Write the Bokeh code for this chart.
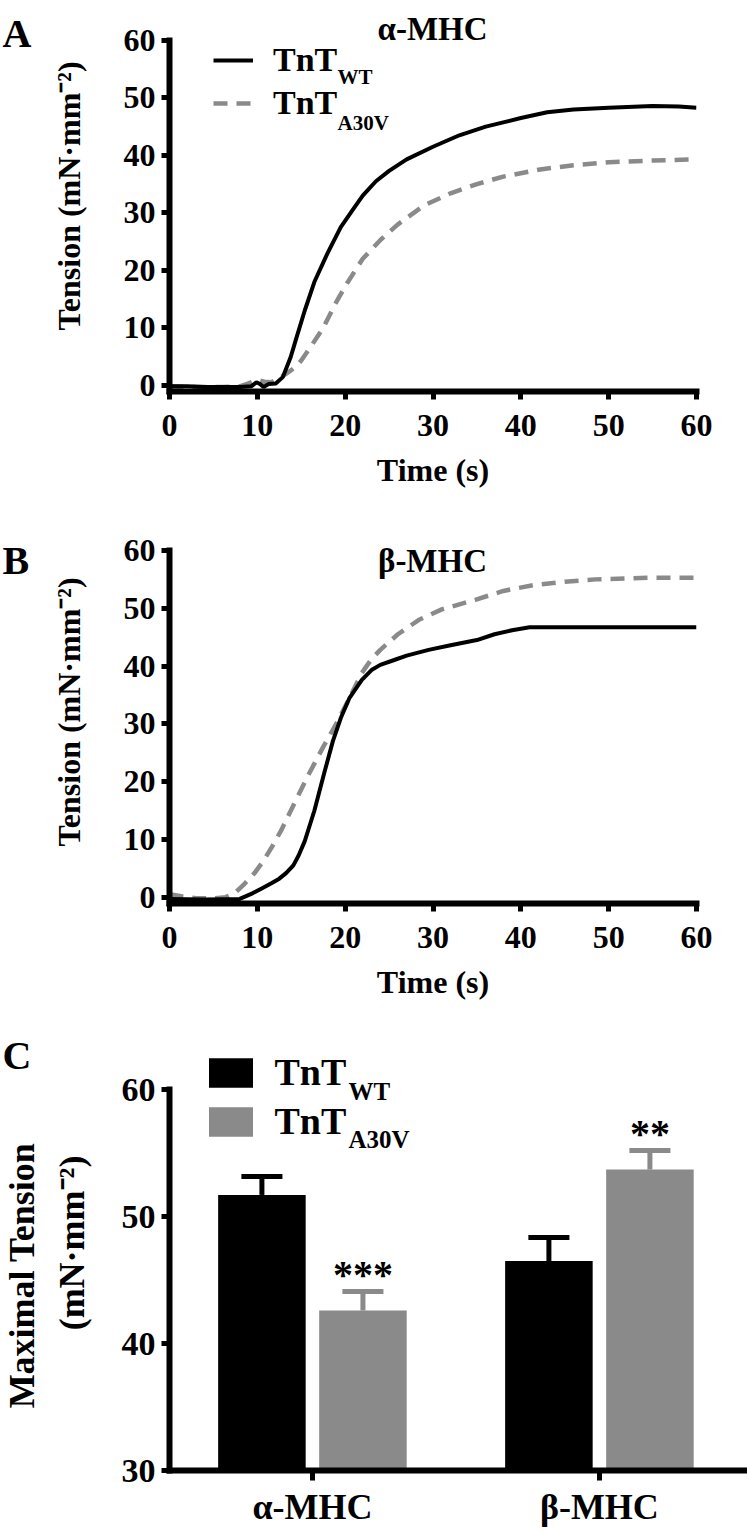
import math
from bokeh.plotting import figure
from bokeh.models import Range1d, FixedTicker, Legend, LegendItem, Label
from bokeh.layouts import column, row
from bokeh.embed import file_html
from bokeh.resources import INLINE
from bokeh.core.properties import value

SERIF = "Liberation Serif"
GRAY = "#8a8a8a"

# ---------------- data ----------------
time_ticks = [0, 10, 20, 30, 40, 50, 60]
tension_ticks = [0, 10, 20, 30, 40, 50, 60]

# Panel A (alpha-MHC)
a_wt_t = [0, 2, 4, 6, 8, 9.3, 9.9, 10.3, 10.7, 11.3, 12.1, 12.9, 13.8, 14.5, 15.4, 16.5, 18, 19.5,
          20.8, 22, 23.5, 25, 27, 30, 33, 36, 40, 43, 46, 50, 55, 58, 60]
a_wt_v = [-0.2, -0.2, -0.3, -0.3, -0.3, -0.2, 0.5, 0.2, -0.3, 0.2, 0.3, 1.4, 4.9, 8.5, 13, 18, 23, 27.5,
          30.4, 33, 35.5, 37.3, 39.3, 41.5, 43.5, 45, 46.5, 47.5, 48, 48.3, 48.6, 48.5, 48.3]
a_mut_t = [0, 3, 6, 8, 9, 10, 10.8, 11.6, 12.5, 13.3, 14.3, 15, 16, 17.5, 19, 20.2, 22, 24.1, 26,
           29, 32, 35, 38, 42, 46, 50, 55, 60]
a_mut_v = [-0.2, -0.3, -0.3, -0.2, 0.3, 0.9, 0.6, 0.5, 1.2, 2, 3.1, 4.3, 6.5, 10, 14.5, 17.7, 22, 25.4, 28,
           31.3, 33.4, 35, 36.3, 37.5, 38.3, 38.8, 39.1, 39.3]

# Panel B (beta-MHC)
b_wt_t = [0, 4, 8, 9.5, 10.5, 11.6, 12.5, 13.3, 14.1, 14.7, 15.4, 16.5, 17.6, 18.6, 19.5, 20.5, 21.9,
          23, 24, 25.5, 27, 29.5, 32, 35, 37, 39, 41, 50, 60]
b_wt_v = [-0.3, -0.4, -0.3, 0.7, 1.5, 2.4, 3.2, 4.2, 5.5, 7.2, 9.7, 15, 21.4, 27, 31, 34.5, 37.6,
          39.3, 40.2, 41, 41.8, 42.8, 43.6, 44.5, 45.5, 46.2, 46.7, 46.7, 46.7]
b_mut_t = [0, 1.5, 3, 5, 6.4, 7.5, 8.6, 9.7, 10.7, 11.7, 12.7, 14.3, 15.9, 17.5, 19.2, 20.5, 21.9, 23,
           24, 26, 28.4, 31, 34.9, 38, 41.4, 45, 48.5, 55, 60]
b_mut_v = [0.5, 0.1, -0.2, -0.2, 0, 0.8, 2.4, 4.2, 6.3, 8.8, 11.5, 16.5, 21.4, 26, 30.6, 34.5, 38.8, 41.2,
           42.8, 45.5, 48, 49.8, 51.5, 53, 54, 54.6, 55, 55.3, 55.3]

# Panel C (maximal tension)
categories = ["\u03b1-MHC", "\u03b2-MHC"]
cat_pos = [1, 2]
wt_mean = [51.7, 46.5]
wt_sem = [1.45, 1.85]
mut_mean = [42.6, 53.7]
mut_sem = [1.5, 1.5]
stars = ["***", "**"]
max_ticks = [30, 40, 50, 60]

series_names = ["TnT", "TnT"]
subscripts = ["WT", "A30V"]
panel_letters = ["A", "B", "C"]

LW = 45          # width of the narrow letter strip
W = 747

# ---------------- helpers ----------------
def style_axes(p, tick_size, label_size, tick_out=8, x_standoff=15, y_standoff=6):
    for ax in p.axis:
        ax.axis_line_width = 6
        ax.axis_line_cap = "square"
        ax.axis_line_color = "black"
        ax.major_tick_line_width = 5
        ax.major_tick_line_color = "black"
        ax.major_tick_out = tick_out
        ax.major_tick_in = 0
        ax.minor_tick_line_color = None
        ax.major_label_text_font = SERIF
        ax.major_label_text_font_style = "bold"
        ax.major_label_text_font_size = tick_size
        ax.major_label_text_color = "black"
        ax.axis_label_text_font = SERIF
        ax.axis_label_text_font_style = "bold"
        ax.axis_label_text_font_size = label_size
        ax.axis_label_text_color = "black"
    p.xaxis.major_label_standoff = x_standoff
    p.yaxis.major_label_standoff = y_standoff
    p.xgrid.visible = False
    p.ygrid.visible = False
    p.outline_line_color = None
    p.background_fill_color = "white"
    p.border_fill_color = "white"


def add_text(p, frame_left, frame_bottom, px, py, text, size, align="left",
             baseline="alphabetic", style="bold", angle=0.0, font=SERIF):
    p.add_layout(Label(x=px - frame_left, y=frame_bottom - py, x_units="screen", y_units="screen",
                       text=text, text_font=font, text_font_size=f"{size}px",
                       text_font_style=style, text_align=align, text_baseline=baseline,
                       text_color="black", angle=angle))


def letter_strip(height):
    s = figure(width=LW, height=height, output_backend="svg", toolbar_location=None,
               x_range=Range1d(0, LW), y_range=Range1d(0, height),
               x_axis_type=None, y_axis_type=None,
               min_border_left=0, min_border_right=0, min_border_top=0, min_border_bottom=0)
    s.xgrid.visible = False
    s.ygrid.visible = False
    s.outline_line_color = None
    return s


def curve_panel(height, top_border, bottom_border, y_top, wt_t, wt_v, mut_t, mut_v):
    p = figure(width=W - LW, height=height, output_backend="svg", toolbar_location=None,
               x_range=Range1d(0, 60), y_range=Range1d(-1.1, y_top),
               min_border_left=169 - LW, min_border_right=W - 696, min_border_top=top_border,
               min_border_bottom=bottom_border)
    r_mut = p.line(mut_t, mut_v, line_width=4.5, line_color=GRAY, line_dash="14 9")
    r_wt = p.line(wt_t, wt_v, line_width=4, line_color="black")
    p.xaxis.ticker = FixedTicker(ticks=time_ticks)
    p.yaxis.ticker = FixedTicker(ticks=tension_ticks)
    p.yaxis.bounds = (-1.1, 60)
    p.xaxis.axis_label = "Time (s)"
    p.yaxis.axis_label = "Tension (mN\u00b7mm\u207b\u00b2)"
    style_axes(p, "32px", "32px")
    p.xaxis.axis_label_standoff = 13
    p.yaxis.axis_label_standoff = 34
    return p, r_wt, r_mut

# ---------------- Panel A ----------------
HA = 505
A_L, A_B = 169, 391          # frame left / bottom (page pixels); frames in a row are aligned
sA = letter_strip(HA)
add_text(sA, 0, A_B, 2, 33, panel_letters[0], 40)
pA, rA_wt, rA_mut = curve_panel(HA, 0, HA - A_B, 66.96, a_wt_t, a_wt_v, a_mut_t, a_mut_v)
legA = Legend(items=[LegendItem(label=series_names[0], renderers=[rA_wt]),
                     LegendItem(label=series_names[1], renderers=[rA_mut])],
              location=(44, 269), glyph_width=40, glyph_height=20, label_standoff=20,
              spacing=5, padding=0, margin=0, border_line_color=None, background_fill_alpha=0,
              label_text_font=SERIF, label_text_font_style="bold", label_text_font_size="34px",
              label_text_color="black")
pA.add_layout(legA)
add_text(pA, A_L, A_B, 337, 76, subscripts[0], 21)
add_text(pA, A_L, A_B, 337, 122, subscripts[1], 21)
add_text(pA, A_L, A_B, 432, 28, categories[0], 33, align="center")

# ---------------- Panel B ----------------
B0 = HA
HB = 510
B_L, B_B = 169, 903
sB = letter_strip(HB)
add_text(sB, 0, B_B, 2, 560, panel_letters[1], 40)
pB, rB_wt, rB_mut = curve_panel(HB, 520 - B0, B0 + HB - B_B, 65.19, b_wt_t, b_wt_v, b_mut_t, b_mut_v)
add_text(pB, B_L, B_B, 432, 560, categories[1], 33, align="center")

# ---------------- Panel C ----------------
C0 = B0 + HB
HC = 1531 - C0
C_L, C_B = 169, 1470
sC = letter_strip(HC)
add_text(sC, 0, C_B, 2, 1055, panel_letters[2], 40)
add_text(sC, 0, C_B, 21, 1275, "Maximal Tension", 36, align="center", baseline="middle",
         angle=math.pi / 2)

pC = figure(width=W - LW, height=HC, output_backend="svg", toolbar_location=None,
            x_range=Range1d(0.502, 2.516), y_range=Range1d(30, 65.83),
            min_border_left=169 - LW, min_border_right=0, min_border_top=0,
            min_border_bottom=C0 + HC - C_B)
off = 0.176
bw = 0.305
wt_x = [c - off for c in cat_pos]
mut_x = [c + off for c in cat_pos]
wt_cap = [m + s for m, s in zip(wt_mean, wt_sem)]
mut_cap = [m + s for m, s in zip(mut_mean, mut_sem)]
hw = 0.0715
rC_wt = pC.vbar(x=wt_x, top=wt_mean, bottom=30, width=bw, fill_color="black", line_color=None)
rC_mut = pC.vbar(x=mut_x, top=mut_mean, bottom=30, width=bw, fill_color=GRAY, line_color=None)
pC.segment(x0=wt_x, y0=wt_mean, x1=wt_x, y1=wt_cap, line_width=5, line_color="black")
pC.segment(x0=[x - hw for x in wt_x], y0=wt_cap, x1=[x + hw for x in wt_x], y1=wt_cap,
           line_width=5, line_color="black")
pC.segment(x0=mut_x, y0=mut_mean, x1=mut_x, y1=mut_cap, line_width=5, line_color=GRAY)
pC.segment(x0=[x - hw for x in mut_x], y0=mut_cap, x1=[x + hw for x in mut_x], y1=mut_cap,
           line_width=5, line_color=GRAY)
pC.text(x=mut_x, y=[c + 1.35 for c in mut_cap], text=stars, text_font=value(SERIF),
        text_font_style="bold", text_font_size="40px", text_align="center",
        text_baseline="alphabetic", text_color="black")
pC.xaxis.ticker = FixedTicker(ticks=cat_pos)
pC.xaxis.major_label_overrides = {c: n for c, n in zip(cat_pos, categories)}
pC.yaxis.ticker = FixedTicker(ticks=max_ticks)
style_axes(pC, "34px", "36px", tick_out=10, x_standoff=6, y_standoff=6)
pC.yaxis.major_tick_out = 8
pC.yaxis.bounds = (30, 60)
pC.xaxis.major_label_text_font_size = "36px"
pC.yaxis.axis_label = "(mN\u00b7mm\u207b\u00b2)"
pC.yaxis.axis_label_standoff = 27
legC = Legend(items=[LegendItem(label=series_names[0], renderers=[rC_wt]),
                     LegendItem(label=series_names[1], renderers=[rC_mut])],
              location=(33.5, 327), glyph_width=55, glyph_height=37, label_standoff=17,
              spacing=5, padding=0, margin=0, border_line_color=None, background_fill_alpha=0,
              label_text_font=SERIF, label_text_font_style="bold", label_text_font_size="38px",
              label_text_color="black")
pC.add_layout(legC)
add_text(pC, C_L, C_B, 348, 1091, subscripts[0], 25)
add_text(pC, C_L, C_B, 348, 1139, subscripts[1], 25)

layout = column(row(sA, pA, spacing=0), row(sB, pB, spacing=0), row(sC, pC, spacing=0), spacing=0)
open("out.html", "w").write(file_html(layout, INLINE))
